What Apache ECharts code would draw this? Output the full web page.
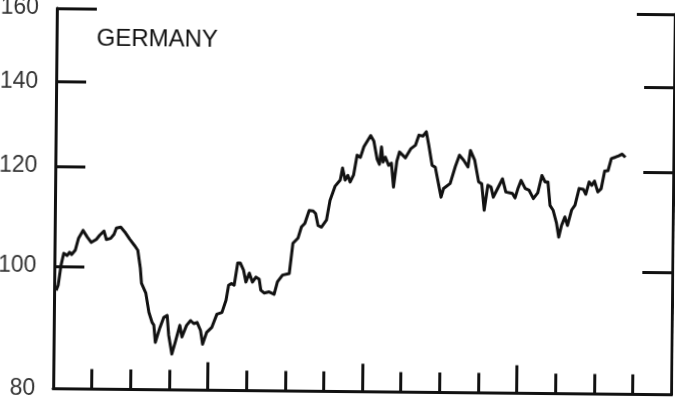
<!DOCTYPE html>
<html lang="en">
  <head>
    <meta charset="UTF-8" />
    <title>Germany</title>
    <script src="https://cdn.jsdelivr.net/npm/echarts@6.0.0/dist/echarts.min.js"></script>
    <style>
      body {
        margin: 0;
        padding: 0;
        background: #fff;
      }
      #main {
        width: 675px;
        height: 403px;
        /* the scan is a little skewed */
        transform: rotate(0.56deg);
      }
    </style>
  </head>
  <body>
    <div id="main"></div>

    <script>
      // x in months from the start of the plot, y is the index (log scale)
      var months = [
        0.16, 0.31, 0.52, 0.72, 0.99, 1.17, 1.34, 1.61, 1.86, 2.20, 2.54, 2.85, 3.24, 3.50, 3.83, 4.02,
        4.35, 4.61, 4.79, 5.13, 5.44, 5.83, 6.21, 6.47, 6.68, 6.78, 7.12, 7.38, 7.64, 7.77, 7.90, 8.23,
        8.54, 8.80, 8.93, 9.19, 9.45, 9.79, 9.96, 10.31, 10.62, 10.87, 11.13, 11.40, 11.57, 11.88, 12.27, 12.66,
        13.05, 13.36, 13.55, 13.77, 13.98, 14.24, 14.45, 14.70, 14.89, 15.15, 15.40, 15.67, 15.92, 16.05, 16.31, 16.70,
        17.09, 17.34, 17.73, 18.25, 18.51, 18.90, 19.16, 19.42, 19.75, 20.06, 20.25, 20.45, 20.71, 21.10, 21.36, 21.75,
        22.14, 22.31, 22.52, 22.73, 22.91, 23.17, 23.43, 23.69, 23.95, 24.47, 24.72, 24.99, 25.17, 25.32, 25.45, 25.63,
        25.89, 26.10, 26.28, 26.52, 26.72, 27.18, 27.61, 27.96, 28.22, 28.53, 28.79, 28.99, 29.26, 29.51, 29.98, 30.17,
        30.68, 31.07, 31.38, 31.71, 32.05, 32.23, 32.57, 32.89, 33.13, 33.34, 33.61, 33.86, 34.04, 34.31, 34.74, 35.01,
        35.34, 35.52, 35.73, 35.94, 36.19, 36.51, 36.82, 37.15, 37.49, 37.80, 38.06, 38.27, 38.45, 38.70, 38.97, 39.15,
        39.36, 39.61, 39.82, 40.13, 40.39, 40.70, 41.03, 41.22, 41.47, 41.68, 41.89, 42.15, 42.41, 42.67, 42.93, 43.18,
        43.49, 43.75, 44.01, 44.27
      ];
      var values = [
        95.7, 96.6, 100.2, 102.4, 102.0, 102.6, 102.2, 103.0, 105.3, 106.8, 105.5, 104.5, 105.1, 105.9, 106.7, 105.1,
        105.3, 106.1, 107.3, 107.5, 106.6, 105.2, 104.0, 103.1, 99.8, 97.1, 95.4, 92.1, 90.4, 90.0, 87.2, 89.5,
        91.3, 91.6, 88.4, 85.4, 87.3, 90.0, 88.1, 90.0, 90.8, 90.3, 90.5, 89.2, 87.0, 88.9, 89.7, 91.9,
        92.2, 94.3, 96.9, 97.2, 96.9, 100.9, 100.9, 99.6, 97.5, 99.1, 97.5, 98.4, 98.0, 96.1, 95.6, 95.8,
        95.4, 97.6, 98.8, 99.1, 104.7, 105.7, 107.9, 108.6, 111.2, 111.1, 110.6, 108.2, 107.9, 109.3, 113.3, 116.3,
        117.6, 120.2, 117.6, 118.6, 117.2, 118.7, 123.1, 122.6, 125.0, 127.6, 126.3, 122.2, 121.1, 125.0, 121.6, 122.7,
        120.9, 121.4, 116.2, 121.8, 123.9, 122.6, 124.7, 125.5, 127.8, 127.6, 128.6, 125.5, 121.0, 120.6, 114.2, 116.0,
        117.1, 120.8, 123.3, 122.2, 120.7, 124.4, 122.2, 117.5, 117.1, 111.6, 116.8, 116.4, 114.3, 115.8, 118.2, 115.4,
        115.2, 115.1, 114.2, 116.1, 117.9, 116.2, 115.8, 114.1, 115.3, 119.0, 117.6, 117.6, 112.7, 111.7, 109.1, 106.4,
        108.7, 110.4, 108.7, 111.8, 112.8, 116.3, 116.1, 115.1, 117.7, 117.0, 117.9, 115.6, 116.3, 120.1, 120.2, 122.9,
        123.2, 123.5, 123.9, 123.2
      ];
      var yLabels = [80, 100, 120, 140, 160];
      var yTicks = [100, 120, 140];

      var ink = '#111';
      var chart = echarts.init(document.getElementById('main'));

      function sideAxis(pos, ticks, len, showLine, labels) {
        return {
          type: 'log',
          logBase: 10,
          min: 80,
          max: 160,
          position: pos,
          axisLine: { show: showLine, lineStyle: { color: ink, width: 3 } },
          axisTick: {
            show: true,
            inside: true,
            length: len,
            customValues: ticks,
            lineStyle: { color: ink, width: 3 }
          },
          axisLabel: labels
            ? {
                show: true,
                customValues: labels,
                margin: 18,
                color: '#333',
                fontSize: 23,
                fontFamily: 'Liberation Sans, Arial, sans-serif'
              }
            : { show: false },
          splitLine: { show: false },
          minorTick: { show: false },
          minorSplitLine: { show: false }
        };
      }

      var option = {
        backgroundColor: '#fff',
        animation: false,
        title: {
          text: 'GERMANY',
          left: 90,
          top: 24,
          textStyle: {
            color: ink,
            fontSize: 24,
            fontWeight: 'normal',
            fontFamily: 'Liberation Sans, Arial, sans-serif'
          }
        },
        grid: {
          left: 55,
          right: 2,
          top: 11,
          bottom: 11.5,
          outerBoundsMode: 'none'
        },
        xAxis: {
          type: 'value',
          min: 0,
          max: 48,
          interval: 12,
          axisLine: { show: true, lineStyle: { color: ink, width: 3 } },
          axisTick: { show: true, inside: true, length: 28, lineStyle: { color: ink, width: 3 } },
          minorTick: { show: true, splitNumber: 4, length: 20, lineStyle: { color: ink, width: 3 } },
          axisLabel: { show: false },
          splitLine: { show: false }
        },
        yAxis: [
          sideAxis('left', yTicks, 30, true, yLabels),
          sideAxis('left', [160], 40, false, null),
          sideAxis('right', yTicks, 30, true, null),
          sideAxis('right', [160], 38, false, null)
        ],
        series: [
          {
            type: 'line',
            yAxisIndex: 0,
            showSymbol: false,
            symbol: 'none',
            lineStyle: { color: ink, width: 3, join: 'round' },
            data: months.map(function (m, i) {
              return [m, values[i]];
            })
          }
        ]
      };
      chart.setOption(option);
    </script>
  </body>
</html>
